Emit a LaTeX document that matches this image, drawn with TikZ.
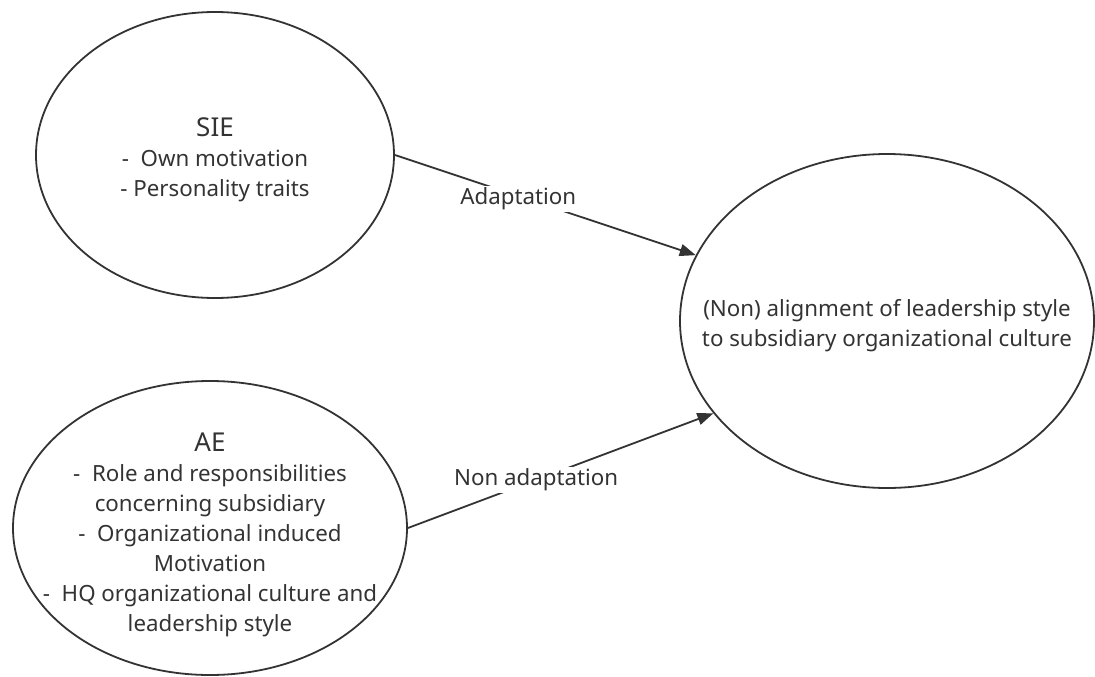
\documentclass[tikz,border=0pt]{standalone}
\usepackage{fontspec}
\setmainfont{Noto Sans}
\usetikzlibrary{shapes.geometric,arrows.meta}
\definecolor{ink}{HTML}{333333}
\begin{document}
\begin{tikzpicture}[x=1pt,y=-1pt,
    bubble/.style={ellipse,draw=ink,line width=1.8pt,inner sep=0pt},
    words/.style={align=center,text=ink,font=\fontsize{22.3}{30}\selectfont},
    link/.style={draw=ink,line width=1.8pt,-{Triangle[length=16pt,width=12pt]}},
    tag/.style={fill=white,text=ink,font=\fontsize{22.3}{26}\selectfont,inner sep=2pt}]
    \useasboundingbox (0,0) rectangle (1095,677);
    % the three ellipses
    \node[bubble,minimum width=358pt,minimum height=286pt] (sie) at (215,155) {};
    \node[bubble,minimum width=394pt,minimum height=294pt] (ae) at (210,528) {};
    \node[bubble,minimum width=414pt,minimum height=334pt] (goal) at (887,321) {};
    \node[words] (sietext) at ([yshift=-5pt]sie.center) {{\fontsize{26}{30}\selectfont SIE}\\-~ Own motivation\\- Personality traits};
    \node[words] (aetext) at ([yshift=-7pt]ae.center) {{\fontsize{26}{30}\selectfont AE}\\-~ Role and responsibilities\\concerning subsidiary\\-~ Organizational induced\\Motivation\\-~ HQ organizational culture and\\leadership style};
    \node[words] (goaltext) at ([yshift=-5pt]goal.center) {(Non) alignment of leadership style\\to subsidiary organizational culture};
    % arrows
    \draw[link] (sie.0) -- node[tag,pos=0.41,yshift=-3pt] (adapt) {Adaptation} (goal.161);
    \draw[link] (ae.0) -- node[tag,pos=0.42] (nonadapt) {Non adaptation} (goal.208);
\end{tikzpicture}
\end{document}
